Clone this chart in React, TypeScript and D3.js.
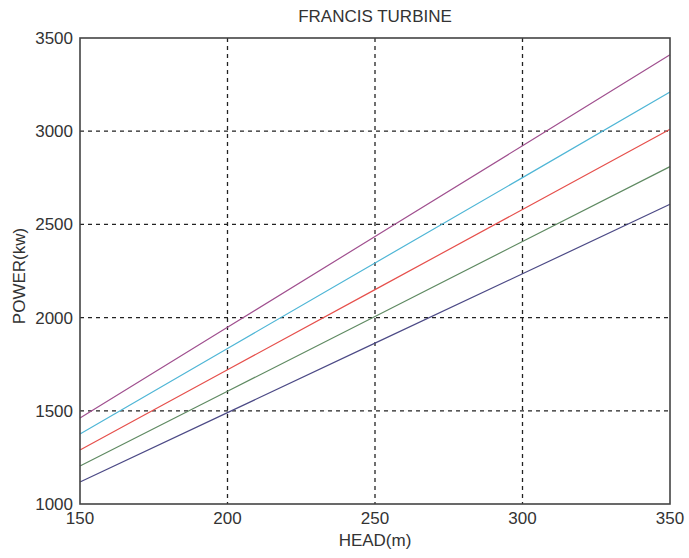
import React, { useEffect, useRef } from 'react';
import * as d3 from 'd3';

const heads = [150, 200, 250, 300, 350];

// power (kw) per curve
const purple = [1461, 1948, 2435, 2922, 3410];
const cyan = [1376, 1834, 2293, 2751, 3210];
const red = [1290, 1720, 2150, 2580, 3010];
const green = [1204, 1605, 2006, 2408, 2810];
const navy = [1118, 1490, 1863, 2235, 2608];

const xTicks = [150, 200, 250, 300, 350];
const yTicks = [1000, 1500, 2000, 2500, 3000, 3500];

const series = [
  { name: 'purple', values: purple, color: '#a0508f' },
  { name: 'cyan', values: cyan, color: '#4fb6d6' },
  { name: 'red', values: red, color: '#e6504c' },
  { name: 'green', values: green, color: '#5f8a62' },
  { name: 'navy', values: navy, color: '#4c4a86' },
];

const App = () => {
  const svgRef = useRef<SVGSVGElement>(null);

  useEffect(() => {
    if (!svgRef.current) return;
    const W = 689, H = 558;
    const margin = { top: 38, right: 19, bottom: 54, left: 80 };
    const width = W - margin.left - margin.right;
    const height = H - margin.top - margin.bottom;

    d3.select(svgRef.current).selectAll('*').remove();
    const root = d3.select(svgRef.current)
      .attr('width', W)
      .attr('height', H)
      .style('font-family', '"Liberation Sans", Arial, sans-serif');

    root.append('rect').attr('width', W).attr('height', H).attr('fill', '#ffffff');

    const svg = root.append('g').attr('transform', `translate(${margin.left},${margin.top})`);

    const x = d3.scaleLinear().domain([150, 350]).range([0, width]);
    const y = d3.scaleLinear().domain([1000, 3500]).range([height, 0]);

    // grid
    svg.append('g')
      .selectAll('line')
      .data(xTicks.slice(1, -1))
      .enter().append('line')
      .attr('x1', d => x(d)).attr('x2', d => x(d))
      .attr('y1', 0).attr('y2', height)
      .attr('stroke', '#222')
      .attr('stroke-width', 1.3)
      .attr('stroke-dasharray', '4,4');

    svg.append('g')
      .selectAll('line')
      .data(yTicks.slice(1, -1))
      .enter().append('line')
      .attr('y1', d => y(d)).attr('y2', d => y(d))
      .attr('x1', 0).attr('x2', width)
      .attr('stroke', '#222')
      .attr('stroke-width', 1.3)
      .attr('stroke-dasharray', '4,4');

    // curves
    const line = d3.line<number>()
      .x((_, i) => x(heads[i]))
      .y(d => y(d));

    svg.append('g')
      .selectAll('path')
      .data(series)
      .enter().append('path')
      .attr('d', d => line(d.values))
      .attr('fill', 'none')
      .attr('stroke', d => d.color)
      .attr('stroke-width', 1.2);

    // frame
    svg.append('rect')
      .attr('width', width)
      .attr('height', height)
      .attr('fill', 'none')
      .attr('stroke', '#444')
      .attr('stroke-width', 1.6);

    // tick labels
    svg.append('g')
      .selectAll('text')
      .data(xTicks)
      .enter().append('text')
      .attr('x', d => x(d))
      .attr('y', height + 20)
      .attr('text-anchor', 'middle')
      .attr('font-size', 17)
      .attr('fill', '#333')
      .text(d => d);

    svg.append('g')
      .selectAll('text')
      .data(yTicks)
      .enter().append('text')
      .attr('x', -7)
      .attr('y', d => y(d))
      .attr('dy', '0.35em')
      .attr('text-anchor', 'end')
      .attr('font-size', 17)
      .attr('fill', '#333')
      .text(d => d);

    // titles
    root.append('text')
      .attr('x', margin.left + width / 2)
      .attr('y', 22)
      .attr('text-anchor', 'middle')
      .attr('font-size', 17)
      .attr('fill', '#333')
      .text('FRANCIS TURBINE');

    root.append('text')
      .attr('x', margin.left + width / 2)
      .attr('y', 546)
      .attr('text-anchor', 'middle')
      .attr('font-size', 17)
      .attr('fill', '#333')
      .text('HEAD(m)');

    root.append('text')
      .attr('transform', `translate(25,${margin.top + height / 2 + 5}) rotate(-90)`)
      .attr('text-anchor', 'middle')
      .attr('font-size', 17)
      .attr('fill', '#333')
      .text('POWER(kw)');
  }, []);

  return <svg ref={svgRef} style={{ display: 'block', position: 'absolute', left: 0, top: 0 }}></svg>;
};

export default App;
